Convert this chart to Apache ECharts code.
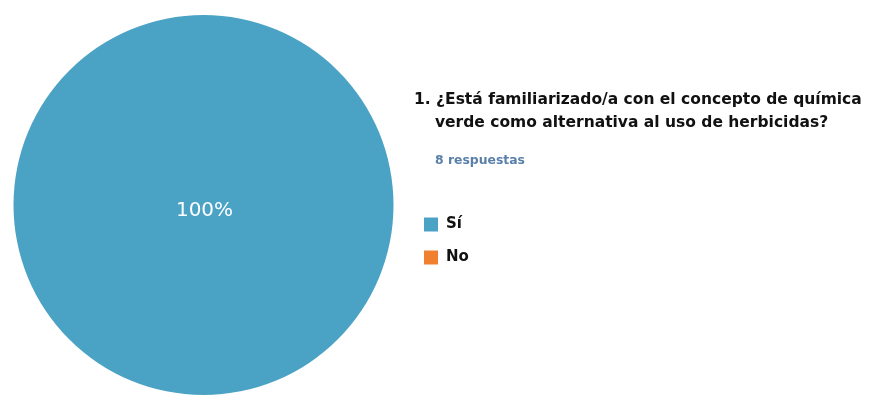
<!DOCTYPE html>
<html>
<head>
<meta charset="utf-8">
<script src="https://cdn.jsdelivr.net/npm/echarts@6/dist/echarts.min.js"></script>
<style>
  html, body { margin: 0; padding: 0; background: #ffffff; }
  #chart { width: 875px; height: 395px; }
</style>
</head>
<body>
<div id="chart"></div>
<script>
// Survey answers for question 1
const categories = ['Sí', 'No'];
const counts = [8, 0];
const titleLines = [
  '1. ¿Está familiarizado/a con el concepto de química',
  'verde como alternativa al uso de herbicidas?'
];
const responsesLabel = '8 respuestas';
const sliceColors = ['#4aa2c4', '#f07f30'];

const total = counts.reduce((a, b) => a + b, 0);

const chart = echarts.init(document.getElementById('chart'), null, { renderer: 'canvas' });

const titleFont = {
  fontFamily: 'DejaVu Sans',
  fontWeight: 'bold',
  fontSize: 15.5,
  color: '#111111'
};

chart.setOption({
  animation: false,
  backgroundColor: '#ffffff',
  title: [
    { text: titleLines[0], left: 414, top: 92, padding: 0, textStyle: titleFont },
    { text: titleLines[1], left: 435, top: 115, padding: 0, textStyle: titleFont },
    {
      text: responsesLabel, left: 435, top: 155, padding: 0,
      textStyle: { fontFamily: 'DejaVu Sans', fontWeight: 'bold', fontSize: 12.4, color: '#5a80aa' }
    }
  ],
  legend: {
    orient: 'vertical',
    left: 424,
    top: 217,
    padding: 0,
    itemWidth: 14,
    itemHeight: 14,
    itemGap: 18,
    icon: 'rect',
    data: categories,
    textStyle: {
      fontFamily: 'DejaVu Sans', fontWeight: 'bold', fontSize: 15, color: '#111111',
      padding: [0, 0, 0, 3]
    }
  },
  series: [{
    type: 'pie',
    center: [203.5, 205],
    radius: 190,
    startAngle: 90,
    clockwise: true,
    silent: true,
    color: sliceColors,
    label: {
      show: true,
      position: 'center',
      offset: [1, 6],
      color: '#ffffff',
      fontFamily: 'DejaVu Sans',
      fontSize: 20,
      formatter: p => p.value > 0 ? Math.round(p.value / total * 100) + '%' : ''
    },
    labelLine: { show: false },
    itemStyle: { borderWidth: 0 },
    data: categories.map((name, i) => ({ name, value: counts[i] }))
  }]
});
</script>
</body>
</html>
